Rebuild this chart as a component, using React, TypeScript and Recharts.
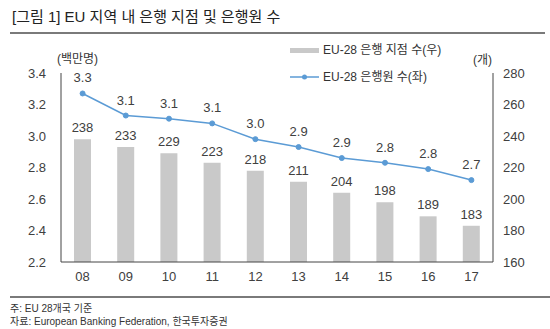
import React from "react";
import {
  Bar,
  ComposedChart,
  LabelList,
  Line,
  XAxis,
  YAxis,
} from "recharts";

const years = ["08", "09", "10", "11", "12", "13", "14", "15", "16", "17"];
const branches = [238, 233, 229, 223, 218, 211, 204, 198, 189, 183];
const employees = [3.27, 3.13, 3.11, 3.08, 2.98, 2.93, 2.86, 2.83, 2.79, 2.72];
const employeeLabels = ["3.3", "3.1", "3.1", "3.1", "3.0", "2.9", "2.9", "2.8", "2.8", "2.7"];
const leftTicks = [2.2, 2.4, 2.6, 2.8, 3.0, 3.2, 3.4];
const rightTicks = [160, 180, 200, 220, 240, 260, 280];

const data = years.map((year, i) => ({
  year,
  branches: branches[i],
  employees: employees[i],
  empLabel: employeeLabels[i],
}));

const FONT = '"Liberation Sans", "Noto Sans CJK KR", sans-serif';
const BAR_COLOR = "#c9c9c9";
const LINE_COLOR = "#5b9bd5";
const TEXT = "#404040";

// legend is drawn outside the chart so it doesn't eat plot space
function ChartLegend() {
  return (
    <div
      style={{
        position: "absolute",
        left: 290,
        top: 43,
        fontFamily: FONT,
        fontSize: 12,
        color: "#333",
        lineHeight: "14px",
        whiteSpace: "nowrap",
      }}
    >
      <div style={{ display: "flex", alignItems: "center", height: 14 }}>
        <span style={{ display: "inline-block", width: 29, height: 5, background: BAR_COLOR, marginRight: 4 }} />
        <span>EU-28 은행 지점 수(우)</span>
      </div>
      <div style={{ display: "flex", alignItems: "center", height: 14, marginTop: 13 }}>
        <svg width={29} height={8} style={{ marginRight: 4 }}>
          <line x1={0} y1={4} x2={29} y2={4} stroke={LINE_COLOR} strokeWidth={1.5} />
          <circle cx={14.5} cy={4} r={2.5} fill={LINE_COLOR} />
        </svg>
        <span>EU-28 은행원 수(좌)</span>
      </div>
    </div>
  );
}

export default function App() {
  return (
    <div
      style={{
        position: "absolute",
        left: 0,
        top: 0,
        width: 550,
        height: 329,
        background: "#fff",
        fontFamily: FONT,
        overflow: "hidden",
      }}
    >
      <div style={{ position: "absolute", left: 12, top: 5, fontSize: 15, color: "#222", whiteSpace: "nowrap" }}>
        [그림 1] EU 지역 내 은행 지점 및 은행원 수
      </div>
      <div style={{ position: "absolute", left: 10, top: 32, width: 535, height: 2, background: "#7a7a7a" }} />

      <ComposedChart
        width={550}
        height={329}
        data={data}
        margin={{ top: 73, right: 0, bottom: 37, left: 0 }}
        style={{ position: "absolute", left: 0, top: 0 }}
      >
        <XAxis
          dataKey="year"
          height={30}
          tickLine={false}
          tickSize={0}
          tickMargin={10}
          axisLine={{ stroke: "#444" }}
          tick={{ fill: TEXT, fontSize: 13, fontFamily: FONT }}
        />
        <YAxis
          yAxisId="left"
          orientation="left"
          width={61}
          domain={[2.2, 3.4]}
          ticks={leftTicks}
          tickFormatter={(v: number) => v.toFixed(1)}
          tickLine={false}
          tickSize={0}
          tickMargin={15}
          axisLine={{ stroke: "#444" }}
          tick={{ fill: TEXT, fontSize: 13, fontFamily: FONT }}
        />
        <YAxis
          yAxisId="right"
          orientation="right"
          width={57}
          domain={[160, 280]}
          ticks={rightTicks}
          tickLine={false}
          tickSize={0}
          tickMargin={10}
          axisLine={{ stroke: "#444" }}
          tick={{ fill: TEXT, fontSize: 13, fontFamily: FONT, textAnchor: "start" }}
        />
        <Bar
          yAxisId="right"
          dataKey="branches"
          name="EU-28 은행 지점 수(우)"
          fill={BAR_COLOR}
          barSize={17}
          isAnimationActive={false}
        >
          <LabelList dataKey="branches" position="top" offset={7} fill={TEXT} fontSize={13} fontFamily={FONT} />
        </Bar>
        <Line
          yAxisId="left"
          dataKey="employees"
          name="EU-28 은행원 수(좌)"
          stroke={LINE_COLOR}
          strokeWidth={1.5}
          dot={{ r: 2.5, fill: LINE_COLOR, stroke: LINE_COLOR, strokeWidth: 1 }}
          isAnimationActive={false}
        >
          <LabelList dataKey="empLabel" position="top" offset={11} fill={TEXT} fontSize={13} fontFamily={FONT} />
        </Line>
      </ComposedChart>

      <ChartLegend />

      <div style={{ position: "absolute", left: 57, top: 49, fontSize: 12, color: "#333" }}>(백만명)</div>
      <div style={{ position: "absolute", left: 473, top: 50, fontSize: 12, color: "#333" }}>(개)</div>

      <div style={{ position: "absolute", left: 10, top: 296, width: 540, height: 2, background: "#7a7a7a" }} />
      <div style={{ position: "absolute", left: 10, top: 303, fontSize: 10, color: "#333", lineHeight: "12px" }}>
        주: EU 28개국 기준
      </div>
      <div style={{ position: "absolute", left: 10, top: 316, fontSize: 10, color: "#333", lineHeight: "12px" }}>
        자료: European Banking Federation, 한국투자증권
      </div>
    </div>
  );
}
